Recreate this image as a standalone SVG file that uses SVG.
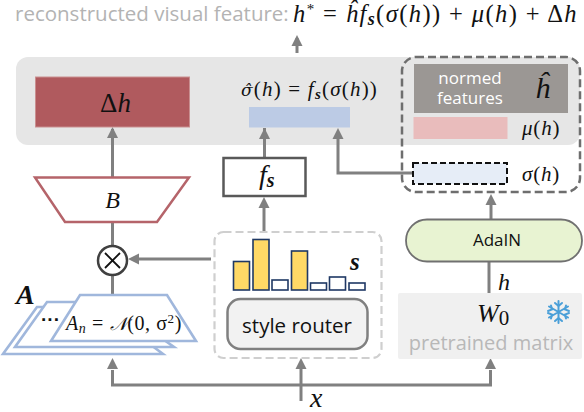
<svg xmlns="http://www.w3.org/2000/svg" width="584" height="412" viewBox="0 0 584 412">
<style>
.s{font-family:"Open Sans","Noto Sans",sans-serif}
.m{font-family:"Liberation Serif","DejaVu Serif",serif;font-style:italic;fill:#111}
.u{font-style:normal}
.c{fill:none;stroke:#808080;stroke-width:3}
.bar{fill:#ffd966;stroke:#1f3864;stroke-width:1.6}
.w{fill:#fff;stroke:#1f3864;stroke-width:1.6}
.pl{fill:#fff;stroke:#a0b7dc;stroke-width:2.6}
.ar{fill:#808080}
text{white-space:pre}
</style>
<text class="s" x="15" y="21" font-size="20.500" fill="#b3b3b3">reconstructed visual feature:</text>
<text class="m" x="293" y="22" font-size="24.500" letter-spacing="1.4">h<tspan dy="-8" font-size="15" class="u">*</tspan><tspan dy="8" class="u"> = </tspan>ĥf<tspan dy="3" font-size="18" font-weight="bold">s</tspan><tspan dy="-3" class="u">(</tspan>σ<tspan class="u">(</tspan>h<tspan class="u">)) + </tspan>μ<tspan class="u">(</tspan>h<tspan class="u">) + Δ</tspan>h</text>
<rect id="panel" x="16" y="57" width="564" height="88" rx="12" fill="#e6e6e6"/>
<g id="connectors">
<path class="c" d="M112.500 177V129"/>
<path class="ar" d="M107 138L112.500 127L118 138Z"/>
<path class="c" d="M112.500 222V245M112.500 276V296"/>
<path class="c" d="M264.500 158V128"/>
<path class="ar" d="M259 139L264.500 128L270 139Z"/>
<path class="c" d="M264 232V204"/>
<path class="ar" d="M258.500 208L264 197L269.500 208Z"/>
<path class="c" d="M211 259H135"/>
<path class="ar" d="M139 253.500L128 259L139 264.500Z"/>
<path class="c" d="M413 173H338V135"/>
<path class="ar" d="M332.500 139L338 128L343.500 139Z"/>
<path class="c" d="M491 219V198"/>
<path class="ar" d="M485.500 205L491 194L496.500 205Z"/>
<path class="c" d="M489 262V293"/>
<path class="c" d="M112.500 370V385H490.500V370"/>
<path class="ar" d="M107 369L112.500 358L118 369Z"/>
<path class="ar" d="M485 369L490.500 358L496 369Z"/>
<path class="c" d="M301 401V368"/>
<path class="ar" d="M295.500 369L301 358L306.500 369Z"/>
<path class="c" d="M297 53V38"/>
<path class="ar" d="M291.500 46L297 35L302.500 46Z"/>
</g>
<g id="delta-h">
<rect x="35.500" y="77" width="154" height="50" fill="#b05a5e" stroke="#c98f90"/>
<text class="m" x="100" y="112" font-size="27"><tspan class="u">Δ</tspan>h</text>
</g>
<g id="sigma-hat">
<text class="m" x="241" y="96" font-size="21" letter-spacing="1.2"><tspan font-family="DejaVu Serif" font-size="17">σ̂</tspan><tspan class="u">(</tspan>h<tspan class="u">) = </tspan>f<tspan dy="3" font-size="15" font-weight="bold">s</tspan><tspan dy="-3" class="u">(</tspan>σ<tspan class="u">(</tspan>h<tspan class="u">))</tspan></text>
<rect x="249" y="107" width="101" height="20.500" fill="#bccbe5"/>
</g>
<g id="stats">
<rect x="402" y="57" width="178" height="135" rx="14" fill="none" stroke="#6e6e6e" stroke-width="2.500" stroke-dasharray="8 4"/>
<rect x="414" y="64" width="154" height="49" fill="#9b9794"/>
<text class="s" x="470" y="84" font-size="17" fill="#fff" text-anchor="middle">normed</text>
<text class="s" x="470" y="104" font-size="17" fill="#fff" text-anchor="middle">features</text>
<text class="m" x="535" y="98" font-size="30">ĥ</text>
<rect x="413.500" y="117" width="94" height="22" fill="#e9bcbc"/>
<text class="m" x="522" y="135" font-size="21" letter-spacing="0.8">μ<tspan class="u">(</tspan>h<tspan class="u">)</tspan></text>
<rect x="413" y="163" width="94" height="21" fill="#e6edf7" stroke="#111" stroke-width="2" stroke-dasharray="6 3"/>
<text class="m" x="522" y="181" font-size="21" letter-spacing="0.8">σ<tspan class="u">(</tspan>h<tspan class="u">)</tspan></text>
</g>
<g id="f-s">
<rect x="223.500" y="158" width="82" height="38" fill="#fff" stroke="#595959" stroke-width="2.500"/>
<text class="m" x="259" y="184" font-size="28">f<tspan dy="3" font-size="20" font-weight="bold">s</tspan></text>
</g>
<g id="b">
<path d="M35 177.500H189L157 222H65Z" fill="#fff" stroke="#b5646a" stroke-width="2.500"/>
<text class="m" x="112.500" y="208" font-size="24" text-anchor="middle">B</text>
</g>
<g id="otimes">
<circle cx="112.500" cy="260.500" r="14.500" fill="#fff" stroke="#404040" stroke-width="2.500"/>
<path d="M105 253L120 268M120 253L105 268" stroke="#111" stroke-width="1.800"/>
</g>
<g id="a-stack">
<path class="pl" d="M37 307H100L163 354H3Z"/>
<path class="pl" d="M47 302H110L174 347H15Z"/>
<path class="pl" d="M80 295H167L196 341H51Z"/>
<text class="m" x="16" y="304" font-size="28" font-weight="bold">A</text>
<text x="41" y="326" font-size="19" font-weight="bold" fill="#111" font-family="Liberation Sans,sans-serif">···</text>
<text class="m" x="66" y="330" font-size="20" letter-spacing="0.6">A<tspan dy="3" font-size="14">n</tspan><tspan dy="-3" class="u"> = </tspan><tspan font-family="Noto Sans CJK SC,DejaVu Sans" font-size="18">𝒩</tspan><tspan class="u">(0, σ</tspan><tspan dy="-7" font-size="13" class="u">2</tspan><tspan dy="7" class="u">)</tspan></text>
</g>
<g id="style-router">
<rect x="214.500" y="232" width="167" height="126" rx="9" fill="none" stroke="#cfcfcf" stroke-width="2.200" stroke-dasharray="8 4"/>
<rect class="bar" x="233.500" y="261.500" width="16" height="28.500"/>
<rect class="bar" x="253" y="239.500" width="16" height="50.500"/>
<rect class="w" x="272" y="280" width="16" height="10"/>
<rect class="bar" x="291.500" y="251" width="16" height="39"/>
<rect class="w" x="310.500" y="283" width="16" height="7"/>
<rect class="w" x="329.500" y="277" width="16" height="13"/>
<rect class="w" x="349" y="283" width="16" height="7"/>
<text class="m" x="350" y="270" font-size="25" font-weight="bold">s</text>
<rect x="227.500" y="299" width="140" height="50" rx="13" fill="#f2f2f2" stroke="#808080" stroke-width="2.500"/>
<text class="s" x="297" y="333" font-size="20.500" fill="#111" text-anchor="middle">style router</text>
</g>
<g id="adain">
<rect x="406" y="219.500" width="176" height="42" rx="21" fill="#e8f3d2" stroke="#707070" stroke-width="1.800"/>
<text class="s" x="497" y="246" font-size="17" fill="#111" text-anchor="middle">AdaIN</text>
</g>
<text id="h-label" class="m" x="498" y="290" font-size="24">h</text>
<g id="w0">
<rect x="398" y="293" width="184" height="66" rx="2" fill="#f0f0f0"/>
<text class="m" x="477" y="322" font-size="26" font-weight="normal">W<tspan dy="3" class="u" font-size="21">0</tspan></text>
<text class="s" x="491" y="350" font-size="20" fill="#b8b8b8" text-anchor="middle">pretrained matrix</text>
<g stroke="#4a9fd8" stroke-width="2" fill="none" stroke-linecap="round">
<path d="M558.500 301V323M549 306.500L568 317.500M549 317.500L568 306.500"/>
<path d="M555 303L558.500 306L562 303M555 321L558.500 318L562 321M548 311L552 309.500L551 305.500M569 311L565 309.500L566 305.500M548 313L552 314.500L551 318.500M569 313L565 314.500L566 318.500"/>
</g>
</g>
<text id="x-label" class="m" x="310" y="407" font-size="28">x</text>
</svg>
